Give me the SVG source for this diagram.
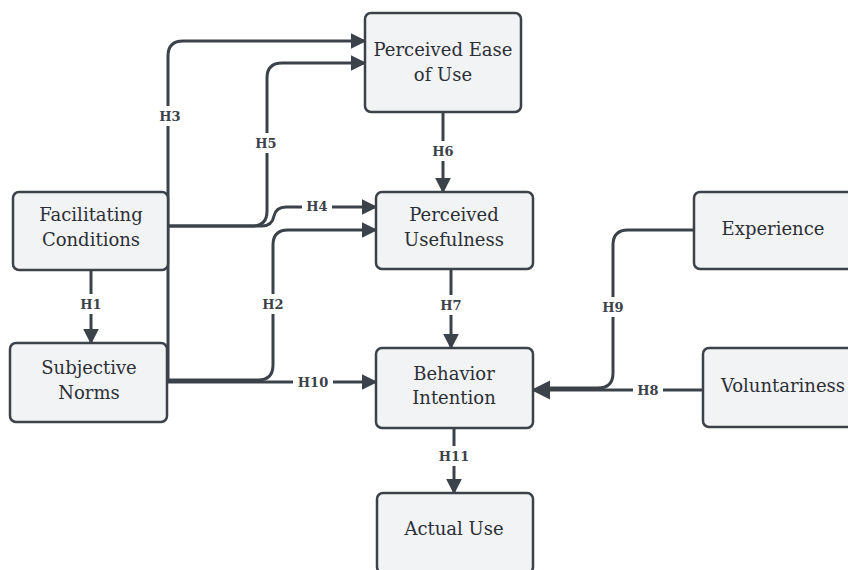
<svg xmlns="http://www.w3.org/2000/svg" width="848" height="570" viewBox="0 0 848 570">
<style>
.box{fill:#f2f3f5;stroke:#3c424a;stroke-width:2.5}
.t{font-family:"DejaVu Serif","Liberation Serif",serif;font-size:18px;fill:#2b2f35;text-anchor:middle}
.c{fill:none;stroke:#3c424a;stroke-width:3}
.lb{font-family:"DejaVu Serif","Liberation Serif",serif;font-size:13px;font-weight:bold;fill:#3c424a;text-anchor:middle}
.bg{fill:#ffffff}
</style>
<defs>
<marker id="a" viewBox="0 0 10 10" refX="9" refY="5" markerWidth="16" markerHeight="18" markerUnits="userSpaceOnUse" orient="auto"><path d="M0,0 L10,5 L0,10 z" fill="#3c424a"/></marker>
<marker id="b" viewBox="0 0 10 10" refX="9" refY="5" markerWidth="19" markerHeight="22" markerUnits="userSpaceOnUse" orient="auto"><path d="M0,0 L10,5 L0,10 z" fill="#3c424a"/></marker>
</defs>
<rect width="848" height="570" fill="#ffffff"/>
<g id="connectors">
<path class="c" d="M168,380 V56 Q168,41 183,41 H365" marker-end="url(#a)"/>
<path class="c" d="M168,226 H252 Q267,226 267,211 V78 Q267,63 282,63 H365" marker-end="url(#a)"/>
<path class="c" d="M168,226 H262 Q272,226 274,216 Q276,207 286,207 H376" marker-end="url(#a)"/>
<path class="c" d="M168,380 H258 Q273,380 273,365 V245 Q273,230 288,230 H376" marker-end="url(#a)"/>
<path class="c" d="M168,382 H376" marker-end="url(#a)"/>
<path class="c" d="M91,270 V343" marker-end="url(#a)"/>
<path class="c" d="M443,112 V192" marker-end="url(#a)"/>
<path class="c" d="M451,269 V348" marker-end="url(#a)"/>
<path class="c" d="M454,428 V493" marker-end="url(#a)"/>
<path class="c" d="M703,390 H533" marker-end="url(#b)"/>
<path class="c" d="M694,230 H628 Q613,230 613,245 V373 Q613,388 598,388 H545"/>
<rect class="bg" x="155" y="106" width="30" height="20"/><text class="lb" x="170" y="121">H3</text>
<rect class="bg" x="251" y="133" width="30" height="20"/><text class="lb" x="266" y="148">H5</text>
<rect class="bg" x="302" y="197" width="30" height="18"/><text class="lb" x="317" y="211">H4</text>
<rect class="bg" x="428" y="141" width="30" height="20"/><text class="lb" x="443" y="156">H6</text>
<rect class="bg" x="258" y="294" width="30" height="20"/><text class="lb" x="273" y="309">H2</text>
<rect class="bg" x="76" y="294" width="30" height="20"/><text class="lb" x="91" y="309">H1</text>
<rect class="bg" x="293" y="373" width="40" height="18"/><text class="lb" x="313" y="387">H10</text>
<rect class="bg" x="436" y="295" width="30" height="20"/><text class="lb" x="451" y="310">H7</text>
<rect class="bg" x="598" y="297" width="30" height="20"/><text class="lb" x="613" y="312">H9</text>
<rect class="bg" x="633" y="381" width="30" height="18"/><text class="lb" x="648" y="395">H8</text>
<rect class="bg" x="434" y="446" width="40" height="20"/><text class="lb" x="454" y="461">H11</text>
</g>
<g id="peou"><rect class="box" x="365" y="13" width="156" height="99" rx="6"/><text class="t" x="443" y="56">Perceived Ease</text><text class="t" x="443" y="81">of Use</text></g>
<g id="pu"><rect class="box" x="376" y="192" width="157" height="77" rx="6"/><text class="t" x="454" y="221">Perceived</text><text class="t" x="454" y="246">Usefulness</text></g>
<g id="fc"><rect class="box" x="13" y="192" width="155" height="78" rx="6"/><text class="t" x="91" y="221">Facilitating</text><text class="t" x="91" y="246">Conditions</text></g>
<g id="sn"><rect class="box" x="10" y="343" width="157" height="79" rx="6"/><text class="t" x="89" y="374">Subjective</text><text class="t" x="89" y="399">Norms</text></g>
<g id="bi"><rect class="box" x="376" y="348" width="157" height="80" rx="6"/><text class="t" x="454" y="380">Behavior</text><text class="t" x="454" y="404">Intention</text></g>
<g id="exp"><rect class="box" x="694" y="192" width="160" height="77" rx="6"/><text class="t" x="773" y="235">Experience</text></g>
<g id="vol"><rect class="box" x="703" y="348" width="150" height="79" rx="6"/><text class="t" x="783" y="392">Voluntariness</text></g>
<g id="au"><rect class="box" x="377" y="493" width="156" height="80" rx="6"/><text class="t" x="454" y="535">Actual Use</text></g>
</svg>
